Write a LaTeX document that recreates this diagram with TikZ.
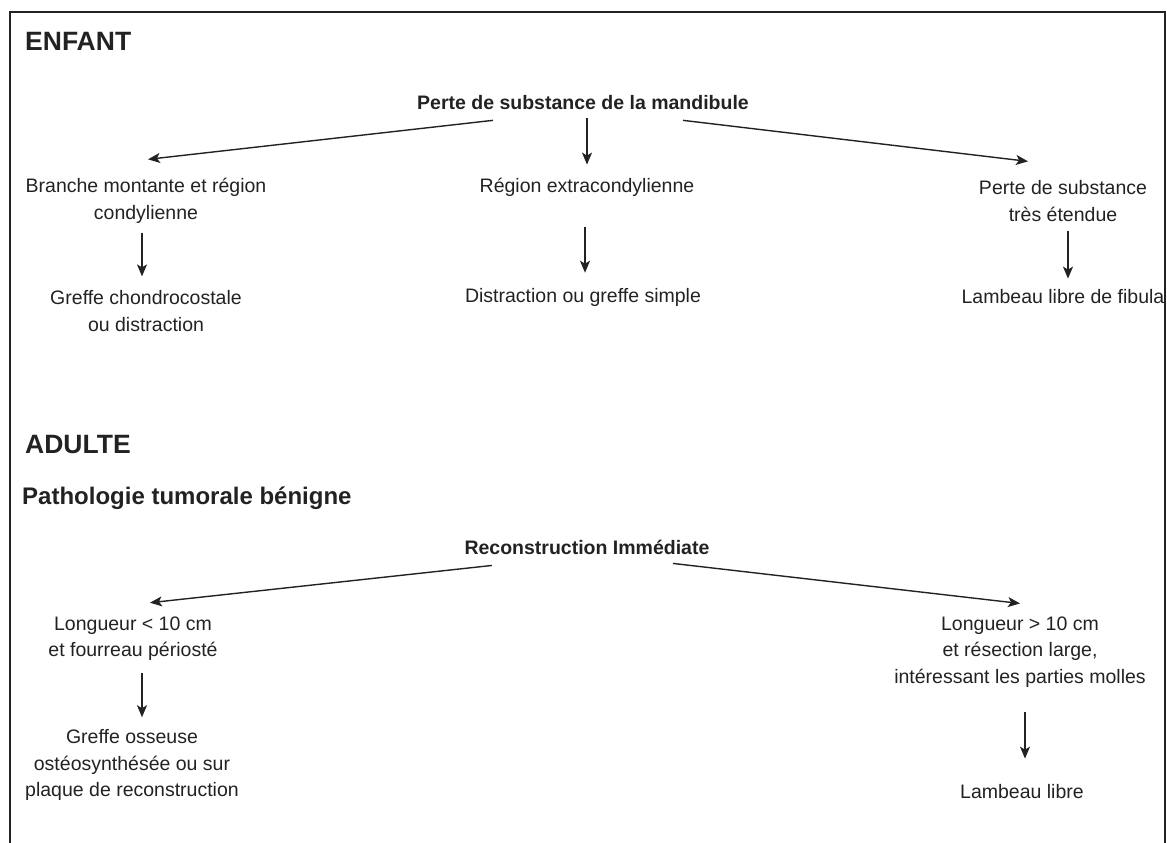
\documentclass[tikz,border=0pt]{standalone}
\usepackage{fontspec}
\setmainfont{Liberation Sans}
\usetikzlibrary{arrows.meta}
\definecolor{ink}{HTML}{222222}
\tikzset{
  txt/.style={inner sep=0pt, align=center, text=ink, font=\fontsize{19.5}{26.5}\selectfont},
  btxt/.style={txt, font=\fontsize{19.5}{26.5}\selectfont\bfseries},
  head/.style={inner sep=0pt, anchor=west, text=ink, font=\fontsize{26.5}{30}\selectfont\bfseries},
  subhead/.style={inner sep=0pt, anchor=west, text=ink, font=\fontsize{24}{28}\selectfont\bfseries},
  arr/.style={draw=ink, line width=1.4pt, -{Stealth[length=12pt,width=10pt,inset=3pt]}},
  frame/.style={draw=ink, line width=1.8pt}
}
\begin{document}
\begin{tikzpicture}[x=1pt,y=1pt]
\useasboundingbox (0,0) rectangle (1167,843);
\draw[frame] (10,0) -- (10,831) -- (1165,831) -- (1165,0);

% ENFANT
\node[head] (enfant) at (25,802) {ENFANT};
\node[btxt] (perte) at (583,740) {Perte de substance de la mandibule};
\node[txt] (branche) at (146,642) {Branche montante et région\\condylienne};
\node[txt] (region) at (587,656) {Région extracondylienne};
\node[txt] (perteEt) at (1063,642) {Perte de substance\\très étendue};
\node[txt] (greffeA) at (146,532) {Greffe chondrocostale\\ou distraction};
\node[txt] (distr) at (583,546) {Distraction ou greffe simple};
\node[txt] (lambeauF) at (1063,546) {Lambeau libre de fibula};

\draw[arr] ([xshift=-90pt,yshift=-10pt]perte.south) -- ([xshift=2pt,yshift=19pt]branche.north);
\draw[arr] ([xshift=4pt,yshift=-8pt]perte.south) -- ([xshift=0pt,yshift=13pt]region.north);
\draw[arr] ([xshift=100pt,yshift=-10pt]perte.south) -- ([xshift=-35pt,yshift=19pt]perteEt.north);
\draw[arr] ([xshift=-4pt,yshift=-9pt]branche.south) -- ([xshift=-4pt,yshift=14pt]greffeA.north);
\draw[arr] ([xshift=-2pt,yshift=-31pt]region.south) -- ([xshift=2pt,yshift=15pt]distr.north);
\draw[arr] ([xshift=5pt,yshift=-9pt]perteEt.south) -- ([xshift=5pt,yshift=11pt]lambeauF.north);

% ADULTE
\node[head] (adulte) at (25,398) {ADULTE};
\node[subhead] (patho) at (22,345) {Pathologie tumorale bénigne};
\node[btxt] (recon) at (587,296) {Reconstruction Immédiate};
\node[txt] (longA) at (133,204.5) {Longueur < 10 cm\\et fourreau périosté};
\node[txt] (greffeB) at (132,78) {Greffe osseuse\\ostéosynthésée ou sur\\plaque de reconstruction};
\node[txt] (longB) at (1020,191) {Longueur > 10 cm\\et résection large,\\intéressant les parties molles};
\node[txt] (lambeau) at (1022,51) {Lambeau libre};

\draw[arr] ([xshift=-95pt,yshift=-11pt]recon.south) -- ([xshift=17pt,yshift=13.5pt]longA.north);
\draw[arr] ([xshift=86pt,yshift=-9pt]recon.south) -- ([xshift=0pt,yshift=13pt]longB.north);
\draw[arr] ([xshift=9pt,yshift=-12.5pt]longA.south) -- ([xshift=10pt,yshift=12pt]greffeB.north);
\draw[arr] ([xshift=5pt,yshift=-24pt]longB.south) -- ([xshift=3pt,yshift=26pt]lambeau.north);
\end{tikzpicture}
\end{document}
